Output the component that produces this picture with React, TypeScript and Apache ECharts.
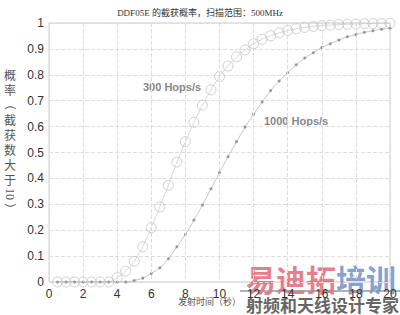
import React, { useEffect, useRef } from "react";
import * as echarts from "echarts";

const titleText = "DDF05E 的截获概率，扫描范围：500MHz";
const xAxisName = "发射时间（秒）";
const yAxisChars = ["概", "率", "（", "截", "获", "数", "大", "于", "10", "）"];
const seriesNames = ["300 Hops/s", "1000 Hops/s"];

const times = [
  0.5, 1, 1.5, 2, 2.5, 3, 3.5, 4, 4.5, 5, 5.5, 6, 6.5, 7, 7.5, 8, 8.5, 9, 9.5, 10,
  10.5, 11, 11.5, 12, 12.5, 13, 13.5, 14, 14.5, 15, 15.5, 16, 16.5, 17, 17.5, 18, 18.5, 19, 19.5, 20,
];

const hops300 = [
  0, 0, 0, 0, 0, 0, 0, 0.017, 0.042, 0.08, 0.136, 0.21, 0.29, 0.373, 0.463, 0.542, 0.617, 0.683, 0.742, 0.793,
  0.834, 0.869, 0.896, 0.92, 0.937, 0.951, 0.962, 0.971, 0.978, 0.983, 0.987, 0.99, 0.992, 0.994, 0.995, 0.996, 0.997, 0.998, 0.998, 0.999,
];

const hops1000 = [
  0, 0, 0, 0, 0, 0, 0, 0, 0, 0.006, 0.015, 0.033, 0.055, 0.09, 0.136, 0.184, 0.239, 0.297, 0.36, 0.422,
  0.484, 0.542, 0.598, 0.648, 0.695, 0.739, 0.776, 0.808, 0.839, 0.865, 0.885, 0.905, 0.92, 0.934, 0.947, 0.955, 0.964, 0.97, 0.976, 0.98,
];

export default function App() {
  const ref = useRef<HTMLDivElement>(null);
  useEffect(() => {
    if (!ref.current) return;
    const chart = echarts.init(ref.current, null, { renderer: "svg" });
    const serif = "'Liberation Serif', 'Noto Sans CJK SC', serif";
    const sans = "'Liberation Sans', Arial, sans-serif";
    const rotated = new Set(["（", "）", "10"]);
    const yNameEls: any[] = yAxisChars.map((c, i) => {
      const y = 74 + i * 15;
      return {
        type: "text",
        x: 10,
        y: y,
        rotation: rotated.has(c) ? -Math.PI / 2 : 0,
        style: {
          text: c,
          font: c === "10" ? `12px ${serif}` : `12px 'Noto Sans CJK SC', serif`,
          fill: "#555",
          align: "center",
          verticalAlign: "middle",
        },
      };
    });
    chart.setOption({
      animation: false,
      backgroundColor: "#fff",
      title: {
        text: titleText,
        left: "center",
        top: 3,
        textStyle: { fontSize: 9, fontWeight: "normal", color: "#333", fontFamily: serif },
      },
      grid: { left: 49, right: 10, top: 23, bottom: 33, show: true, borderColor: "#ccc", borderWidth: 1 },
      xAxis: {
        type: "value",
        min: 0,
        max: 20,
        interval: 2,
        axisLine: { show: false },
        axisTick: { show: false },
        axisLabel: { fontSize: 12, color: "#333", fontFamily: sans, margin: 6 },
        splitLine: { show: true, lineStyle: { type: "dashed", color: "#ddd" } },
        z: 5,
      },
      yAxis: {
        type: "value",
        min: 0,
        max: 1,
        interval: 0.1,
        axisLine: { show: false },
        axisTick: { show: false },
        axisLabel: { fontSize: 12, color: "#333", fontFamily: sans, margin: 5 },
        splitLine: { show: true, lineStyle: { type: "dashed", color: "#ddd" } },
      },
      series: [
        {
          name: seriesNames[0],
          type: "line",
          smooth: 0.3,
          data: times.map((t, i) => [t, hops300[i]]),
          symbol: "circle",
          symbolSize: 10,
          showAllSymbol: true,
          lineStyle: { color: "#cfcfcf", width: 0.8 },
          itemStyle: { color: "rgba(255,255,255,0)", borderColor: "#c4c4c4", borderWidth: 0.8 },
          z: 2,
        },
        {
          name: seriesNames[1],
          type: "line",
          smooth: 0.3,
          data: times.map((t, i) => [t, hops1000[i]]),
          symbol: "circle",
          symbolSize: 3,
          showAllSymbol: true,
          lineStyle: { color: "#b8b8b8", width: 0.8 },
          itemStyle: { color: "#999" },
          z: 3,
        },
      ],
      graphic: {
        z: 1,
        elements: [
          ...yNameEls,
          {
            type: "text",
            x: 241,
            y: 302,
            style: { text: xAxisName, font: `9px ${serif}`, fill: "#555", align: "right", verticalAlign: "middle" },
          },
          {
            type: "text",
            x: 143,
            y: 87,
            style: { text: seriesNames[0], font: `bold 11px ${sans}`, fill: "#888", verticalAlign: "middle" },
          },
          {
            type: "text",
            x: 264,
            y: 121,
            style: { text: seriesNames[1], font: `bold 11px ${sans}`, fill: "#888", verticalAlign: "middle" },
          },
          {
            type: "text",
            x: 246,
            y: 278,
            style: { text: "易迪拓", font: `bold 30px 'Noto Sans CJK SC'`, fill: "rgba(220,70,90,0.7)", verticalAlign: "middle" },
          },
          {
            type: "text",
            x: 336,
            y: 278,
            style: { text: "培训", font: `bold 30px 'Noto Sans CJK SC'`, fill: "rgba(80,120,190,0.7)", verticalAlign: "middle" },
          },
          {
            type: "line",
            shape: { x1: 240, y1: 291, x2: 400, y2: 291 },
            style: { stroke: "#999", lineWidth: 1.5 },
          },
          {
            type: "text",
            x: 246,
            y: 304,
            style: { text: "射频和天线设计专家", font: `bold 17px 'Noto Sans CJK SC'`, fill: "#666", verticalAlign: "middle" },
          },
        ],
      },
    });
    return () => chart.dispose();
  }, []);
  return <div ref={ref} style={{ width: 400, height: 315, position: "absolute", left: 0, top: 0 }} />;
}
